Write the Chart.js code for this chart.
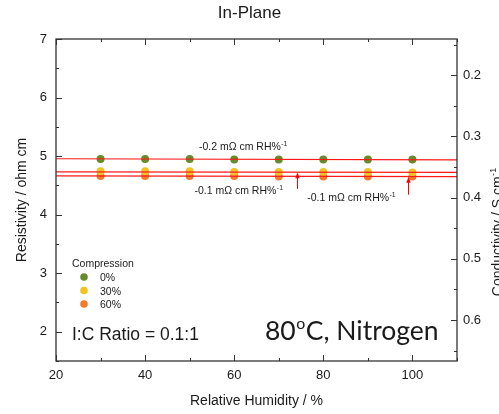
<!DOCTYPE html>
<html>
<head>
<meta charset="utf-8">
<script src="https://cdn.jsdelivr.net/npm/chart.js@4/dist/chart.umd.min.js"></script>
<style>
  html,body{margin:0;padding:0;background:#fff;}
  #wrap{width:499px;height:414px;position:relative;}
</style>
</head>
<body>
<div id="wrap"><canvas id="c" width="499" height="414"></canvas></div>
<script>
// ---- data ----
const humidity = [30, 40, 50, 60, 70, 80, 90, 100];
const comp0  = [4.95, 4.95, 4.95, 4.94, 4.94, 4.94, 4.94, 4.94];
const comp30 = [4.74, 4.74, 4.74, 4.73, 4.73, 4.73, 4.73, 4.72];
const comp60 = [4.66, 4.66, 4.66, 4.66, 4.65, 4.65, 4.65, 4.65];
const fitX   = [20, 110];
const fit0   = [4.955, 4.937];
const fit30  = [4.732, 4.723];
const fit60  = [4.662, 4.650];
const seriesLabels = ['0%', '30%', '60%'];
const xTicks  = [20, 40, 60, 80, 100];
const yTicks  = [2, 3, 4, 5, 6, 7];
const y2Ticks = [0.2, 0.3, 0.4, 0.5, 0.6];

const FONT = '"Liberation Sans", Arial, sans-serif';
const colors = ['#668a2c', '#f0c224', '#f47a2c'];

function pts(xs, ys){ return xs.map((x,i)=>({x:x, y:ys[i]})); }

function drawSup(ctx, parts, x, y, size){
  ctx.font = size + 'px ' + FONT;
  ctx.fillText(parts[0], x, y);
  const w = ctx.measureText(parts[0]).width;
  if (parts[1]) {
    ctx.font = (size*0.65) + 'px ' + FONT;
    ctx.fillText(parts[1], x + w + 0.5, y - size*0.42);
    return w + 0.5 + ctx.measureText(parts[1]).width;
  }
  return w;
}
function supWidth(ctx, parts, size){
  ctx.font = size + 'px ' + FONT;
  let w = ctx.measureText(parts[0]).width;
  if (parts[1]) { ctx.font = (size*0.65)+'px '+FONT; w += 0.5 + ctx.measureText(parts[1]).width; }
  return w;
}

const decor = {
  id: 'decor',
  afterDraw(chart){
    const ctx = chart.ctx, a = chart.chartArea;
    const xs = chart.scales.x, ys = chart.scales.y, y2 = chart.scales.y2;
    ctx.save();
    ctx.strokeStyle = '#333';
    ctx.lineWidth = 1.3;
    ctx.strokeRect(a.left, a.top, a.right - a.left, a.bottom - a.top);
    ctx.lineWidth = 1;
    ctx.beginPath();
    for (let v = 20; v <= 110; v += 10) {
      const px = Math.round(xs.getPixelForValue(v)) + 0.5;
      const len = (v % 20 === 0) ? 6 : 3;
      ctx.moveTo(px, a.bottom); ctx.lineTo(px, a.bottom - len);
      ctx.moveTo(px, a.top); ctx.lineTo(px, a.top + len);
    }
    for (let v = 1.5; v <= 7.001; v += 0.5) {
      const py = Math.round(ys.getPixelForValue(v)) + 0.5;
      const len = (Math.abs(v - Math.round(v)) < 1e-6) ? 6 : 3;
      ctx.moveTo(a.left, py); ctx.lineTo(a.left + len, py);
    }
    for (let k = 3; k <= 13; k++) {
      const v = k * 0.05;
      if (v < y2.min || v > y2.max) continue;
      const py = Math.round(y2.getPixelForValue(v)) + 0.5;
      const len = (k % 2 === 0) ? 6 : 3;
      ctx.moveTo(a.right, py); ctx.lineTo(a.right - len, py);
    }
    ctx.stroke();

    ctx.fillStyle = '#1a1a1a';
    ctx.textBaseline = 'alphabetic';
    ctx.font = '14px ' + FONT;
    ctx.textAlign = 'center';
    ctx.fillText('Relative Humidity / %', (a.left + a.right)/2, 405);
    ctx.save();
    ctx.translate(26, (a.top + a.bottom)/2);
    ctx.rotate(-Math.PI/2);
    ctx.fillText('Resistivity / ohm cm', 0, 0);
    ctx.restore();
    ctx.save();
    const rParts = ['Conductivity / S cm', '-1'];
    const rw = supWidth(ctx, rParts, 14);
    ctx.translate(502, 232);
    ctx.rotate(-Math.PI/2);
    ctx.textAlign = 'left';
    drawSup(ctx, rParts, -rw/2, 0, 14);
    ctx.restore();

    // legend
    ctx.textAlign = 'left';
    ctx.font = '10.5px ' + FONT;
    ctx.fillText('Compression', 72, 267);
    const dsets = chart.data.datasets.filter(d => d.legend);
    dsets.forEach((d, i) => {
      const cy = 277 + i * 13.5;
      ctx.beginPath();
      ctx.fillStyle = d.backgroundColor;
      ctx.arc(84, cy, 3.8, 0, Math.PI*2);
      ctx.fill();
      ctx.fillStyle = '#1a1a1a';
      ctx.font = '10.5px ' + FONT;
      ctx.fillText(d.label, 100, cy + 4);
    });

    ctx.font = '17.5px ' + FONT;
    ctx.fillText('I:C Ratio = 0.1:1', 72, 340);
    const big = 26.5;
    const BF = 'px Lato, "Open Sans", sans-serif';
    ctx.font = big + BF;
    let x0 = 265, yb = 339.5;
    ctx.fillText('80', x0, yb);
    let w = ctx.measureText('80').width;
    ctx.font = (big*0.6) + BF;
    ctx.fillText('o', x0 + w + 0.5, yb - big*0.38);
    w += 0.5 + ctx.measureText('o').width;
    ctx.font = big + BF;
    ctx.fillText('C, Nitrogen', x0 + w + 0.5, yb);

    const notes = [
      {x: 62, y: 5.17, t: ['-0.2 m\u03A9 cm RH%', '-1']},
      {x: 61, y: 4.42, t: ['-0.1 m\u03A9 cm RH%', '-1']},
      {x: 86.3, y: 4.30, t: ['-0.1 m\u03A9 cm RH%', '-1']}
    ];
    notes.forEach(n => {
      const cx = xs.getPixelForValue(n.x), cy = ys.getPixelForValue(n.y);
      const tw = supWidth(ctx, n.t, 10.5);
      ctx.fillStyle = '#1a1a1a';
      drawSup(ctx, n.t, cx - tw/2, cy + 4, 10.5);
    });
    const arrows = [
      {x: 74.1, y0: 4.44, y1: 4.725},
      {x: 99.0, y0: 4.34, y1: 4.645}
    ];
    ctx.strokeStyle = '#ff0000';
    ctx.fillStyle = '#ff0000';
    ctx.lineWidth = 1;
    arrows.forEach(ar => {
      const px = Math.round(xs.getPixelForValue(ar.x)) + 0.5;
      const p0 = ys.getPixelForValue(ar.y0), p1 = ys.getPixelForValue(ar.y1);
      ctx.beginPath(); ctx.moveTo(px, p0); ctx.lineTo(px, p1 + 4); ctx.stroke();
      ctx.beginPath(); ctx.moveTo(px, p1); ctx.lineTo(px - 2.2, p1 + 6); ctx.lineTo(px + 2.2, p1 + 6); ctx.closePath(); ctx.fill();
    });
    ctx.restore();
  }
};

const pointSets = [comp0, comp30, comp60].map((ys, i) => ({
  type: 'scatter',
  label: seriesLabels[i],
  legend: true,
  data: pts(humidity, ys),
  backgroundColor: colors[i],
  borderColor: colors[i],
  borderWidth: 0,
  pointRadius: 4,
  showLine: false,
  order: 2
}));
const fitSets = [fit0, fit30, fit60].map((ys, i) => ({
  type: 'line',
  label: 'fit ' + seriesLabels[i],
  data: pts(fitX, ys),
  borderColor: '#ff1a1a',
  borderWidth: 1.2,
  pointRadius: 0,
  fill: false,
  order: 1
}));

new Chart(document.getElementById('c'), {
  type: 'scatter',
  data: { datasets: [...pointSets, ...fitSets] },
  plugins: [decor],
  options: {
    responsive: false,
    animation: false,
    layout: { padding: 0 },
    plugins: {
      legend: { display: false },
      tooltip: { enabled: false },
      title: {
        display: true,
        text: 'In-Plane',
        color: '#1a1a1a',
        font: { family: FONT, size: 17, weight: 'normal', lineHeight: 1.2 },
        padding: { top: 3, bottom: 15.6 }
      }
    },
    scales: {
      x: {
        type: 'linear', min: 20, max: 110,
        grid: { display: false, drawTicks: false },
        border: { display: false },
        afterBuildTicks: s => { s.ticks = xTicks.map(v => ({value: v})); },
        afterFit: s => { s.height = 53; },
        ticks: { color: '#1a1a1a', padding: 7, font: { family: FONT, size: 13 }, maxRotation: 0 }
      },
      y: {
        type: 'linear', position: 'left', min: 1.5, max: 7,
        grid: { display: false, drawTicks: false },
        border: { display: false },
        afterBuildTicks: s => { s.ticks = yTicks.map(v => ({value: v})); },
        afterFit: s => { s.width = 56; },
        ticks: { color: '#1a1a1a', padding: 9, font: { family: FONT, size: 13 } }
      },
      y2: {
        type: 'linear', position: 'right', min: 0.141, max: 0.667, reverse: true,
        grid: { display: false, drawTicks: false },
        border: { display: false },
        afterBuildTicks: s => { s.ticks = y2Ticks.map(v => ({value: v})); },
        afterFit: s => { s.width = 42; },
        ticks: { color: '#1a1a1a', padding: 6, font: { family: FONT, size: 13 },
                 callback: v => v.toFixed(1) }
      }
    }
  }
});
</script>
</body>
</html>
